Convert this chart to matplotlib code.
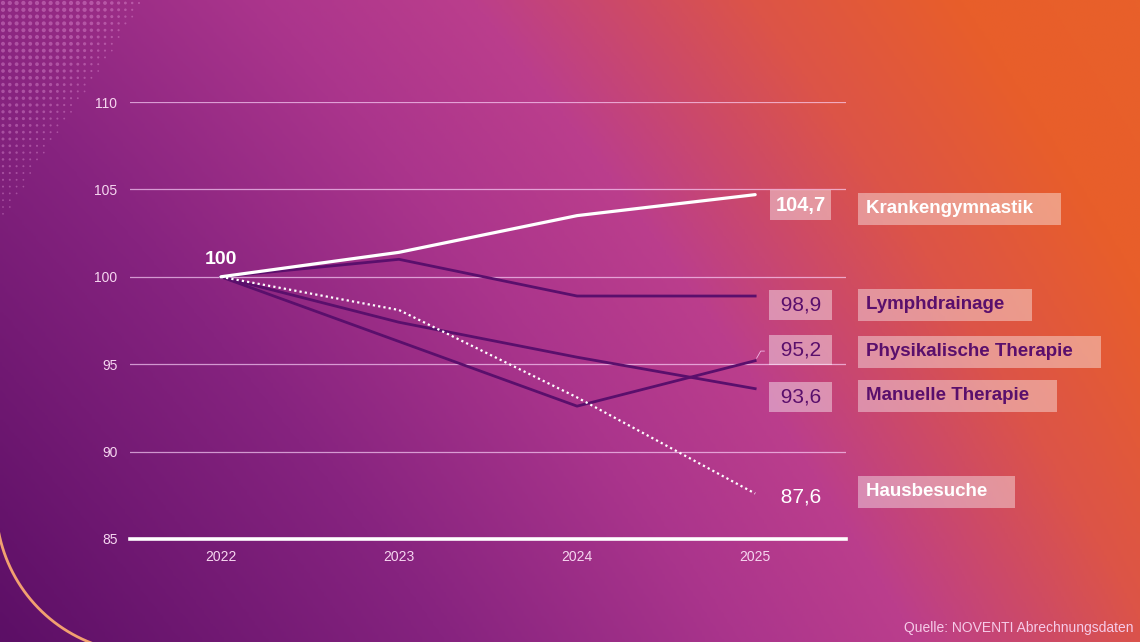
import numpy as np
import matplotlib
matplotlib.use("Agg")
import matplotlib.pyplot as plt
from matplotlib.colors import LinearSegmentedColormap

plt.rcParams['font.family'] = ['Liberation Sans', 'DejaVu Sans']

# ---------------- data ----------------
years = ["2022", "2023", "2024", "2025"]
krankengymnastik = [100, 101.4, 103.5, 104.7]
lymphdrainage = [100, 101.0, 98.9, 98.9]
physikalische = [100, 96.3, 92.6, 95.2]
manuelle = [100, 97.4, 95.4, 93.6]
hausbesuche = [100, 98.1, 93.1, 87.6]
y_ticks = [85, 90, 95, 100, 105, 110]
end_labels = ["104,7", "98,9", "95,2", "93,6", "87,6"]
series_names = ["Krankengymnastik", "Lymphdrainage", "Physikalische Therapie",
                "Manuelle Therapie", "Hausbesuche"]
source = "Quelle: NOVENTI Abrechnungsdaten"

W, H = 1140, 642
DARK = "#5a0f6c"
fig = plt.figure(figsize=(W / 100, H / 100), dpi=100)

# ---------------- background ----------------
bg = fig.add_axes([0, 0, 1, 1], zorder=-5)
xx, yy = np.meshgrid(np.linspace(0, 1, 400), np.linspace(0, 1, 240))
t = np.clip(0.35 + 0.65 * xx - 0.35 * yy + 0.12 * xx * yy, 0, 1)
cmap = LinearSegmentedColormap.from_list("bg", [
    (0.0, "#5c0f66"), (0.3, "#86237f"), (0.5, "#ab358c"), (0.62, "#bb3e8c"),
    (0.78, "#dc5448"), (0.9, "#e85e2a"), (1.0, "#e8602a")])
bg.imshow(t, cmap=cmap, extent=(0, W, H, 0), aspect="auto", interpolation="bilinear")
# dotted texture top-left
gx, gy = np.meshgrid(np.arange(3, 170, 6.8), np.arange(3, 230, 6.8))
gx = gx.ravel(); gy = gy.ravel()
lim = 145 - 0.65 * gy
m = gx < lim
fade = np.clip((lim[m] - gx[m]) / 50, 0, 1) * np.clip(1 - gy[m] / 230, 0, 1)
sizes = 1.5 + 8.0 * fade
bg.scatter(gx[m], gy[m], s=sizes, color="#f0a8e4", alpha=0.35, linewidths=0)
# orange arc bottom-left
cx, cy, r = 145, 504, 149
ang = np.radians(np.linspace(95, 178, 200))
bg.plot(cx + r * np.cos(ang), cy + r * np.sin(ang), color="#f2a070", lw=2)
bg.set_xlim(0, W); bg.set_ylim(H, 0); bg.axis("off")

# ---------------- main chart ----------------
ax = fig.add_axes([130 / W, (H - 539) / H, 716 / W, (539 - 102) / H])
ax.patch.set_alpha(0)
x = np.arange(len(years))
ax.set_xlim(-0.51, 3.51)
ax.set_ylim(85, 110)
for s in ax.spines.values():
    s.set_visible(False)
for yv in y_ticks[1:]:
    ax.axhline(yv, color=(1, 0.85, 1, 0.65), lw=0.9, zorder=1)
ax.axhline(85, color="white", lw=2.6, zorder=1, clip_on=False)

ax.set_yticks(y_ticks)
ax.set_yticklabels([str(v) for v in y_ticks])
ax.set_xticks(x)
ax.set_xticklabels(years)
ax.tick_params(axis="y", length=0, pad=9, labelsize=10, labelcolor="#f6d6f0")
ax.tick_params(axis="x", length=0, pad=8, labelsize=10, labelcolor="#f6d6f0")

ax.plot(x, lymphdrainage, color=DARK, lw=2, zorder=3)
ax.plot(x, physikalische, color=DARK, lw=2, zorder=3)
ax.plot(x, manuelle, color=DARK, lw=2, zorder=3)
ax.plot(x, hausbesuche, color="white", lw=1.6, ls=(0, (1, 1.4)), zorder=4)
ax.plot(x, krankengymnastik, color="white", lw=2.3, zorder=5,
        solid_capstyle="round")

ax.text(0, 100.5, "100", color="white", fontsize=14, fontweight="bold",
        ha="center", va="bottom")

# end value labels
box = dict(boxstyle="square,pad=0.26", fc=(1, 1, 1, 0.42), ec="none")
val_y = [104.1, 98.4, 95.8, 93.1, 87.4]
val_style = [("white", "bold", True), (DARK, "normal", True), (DARK, "normal", True),
             (DARK, "normal", True), ("white", "normal", False)]
for lab, yv, (col, fw, has_box) in zip(end_labels, val_y, val_style):
    ax.text(3.255, yv, (" " + lab + " ") if fw == "normal" else lab,
            color=col, fontsize=15 if fw == "normal" else 14.5, fontweight=fw,
            ha="center", va="center", clip_on=False,
            bbox=box if has_box else None)
# leader for 95,2
ax.annotate("", xy=(3.0, 95.2), xytext=(3.068, 95.75),
            arrowprops=dict(arrowstyle="-", color=(1, 0.85, 1, 0.8), lw=0.6,
                            connectionstyle="angle,angleA=0,angleB=60,rad=0"),
            annotation_clip=False)

# series name labels
name_y = [103.9, 98.4, 95.7, 93.2, 87.7]
name_col = ["white", DARK, DARK, DARK, "white"]
nbox = dict(boxstyle="square,pad=0.4", fc=(1, 1, 1, 0.4), ec="none")
for nm, yv, col in zip(series_names, name_y, name_col):
    ax.text(3.62, yv, nm + "    ", color=col, fontsize=13.5, fontweight="bold",
            ha="left", va="center", clip_on=False, bbox=nbox)

fig.text(1133 / W, 1 - 628 / H, source, color="#f6cbe8", fontsize=10,
         ha="right", va="center")

fig.savefig("out.png", dpi=100)
